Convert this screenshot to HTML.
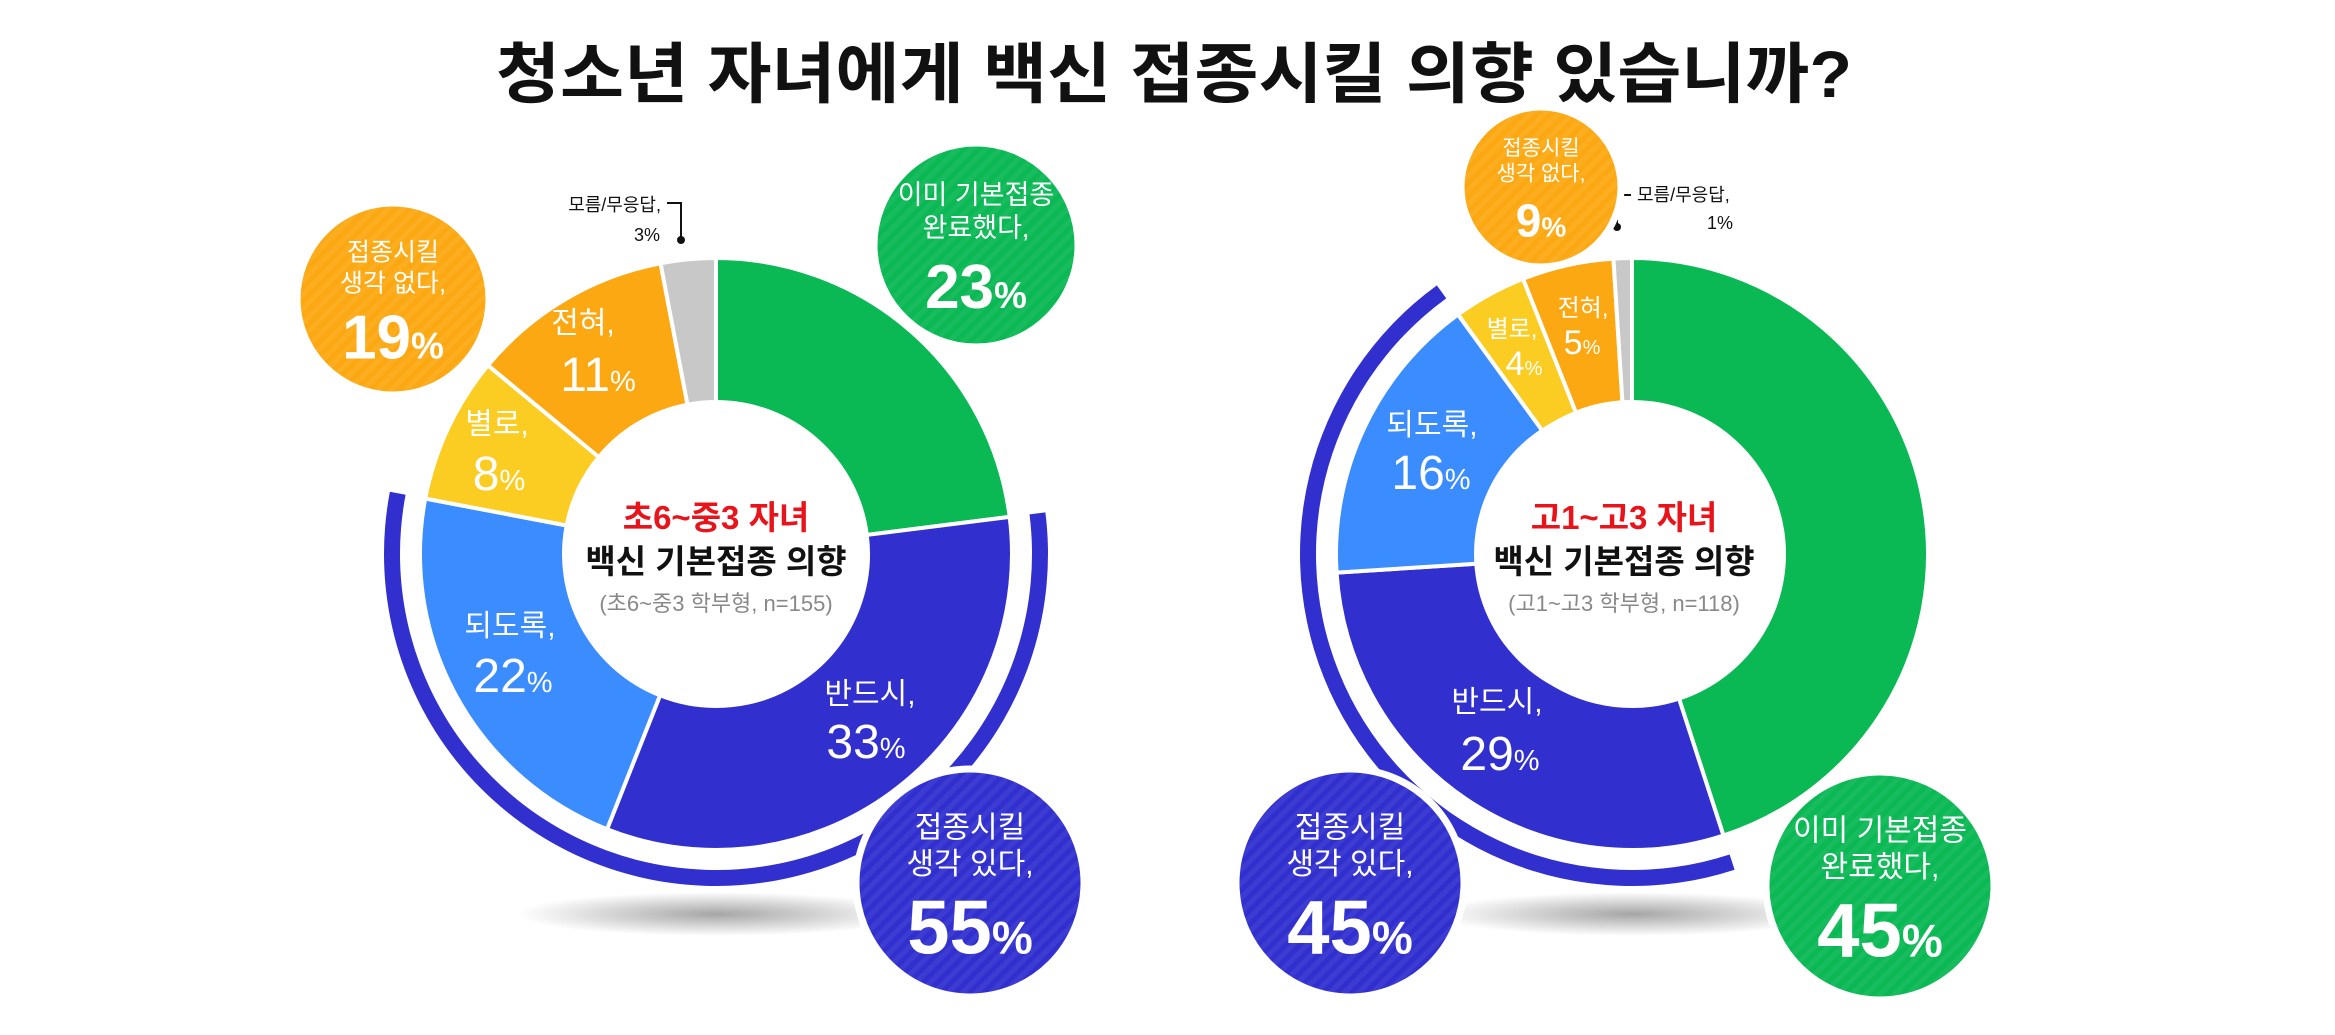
<!DOCTYPE html>
<html><head><meta charset="utf-8">
<style>
html,body{margin:0;padding:0;background:#fff;}
svg{display:block;font-family:"Liberation Sans","Noto Sans CJK KR",sans-serif;}
</style></head>
<body>
<svg id="chart" width="2335" height="1035" viewBox="0 0 2335 1035" xmlns="http://www.w3.org/2000/svg">
<defs>
<pattern id="stripe" width="10" height="10" patternUnits="userSpaceOnUse" patternTransform="rotate(45)">
<rect width="5" height="10" fill="#ffffff" opacity="0.06"/>
</pattern>
<radialGradient id="shadow" cx="50%" cy="50%" r="50%">
<stop offset="0" stop-color="#000" stop-opacity="0.35"/>
<stop offset="1" stop-color="#000" stop-opacity="0"/>
</radialGradient>
</defs>
<text x="1174" y="97" text-anchor="middle" font-size="66" font-weight="bold" fill="#111" textLength="1356" lengthAdjust="spacingAndGlyphs">청소년 자녀에게 백신 접종시킬 의향 있습니까?</text>
<g id="layer"></g>
</svg>
<script>
// Left donut (초6~중3)
const leftCategories = ["이미 기본접종 완료", "반드시", "되도록", "별로", "전혀", "모름/무응답"];
const leftValues = [23, 33, 22, 8, 11, 3];
// Right donut (고1~고3)
const rightCategories = ["이미 기본접종 완료", "반드시", "되도록", "별로", "전혀", "모름/무응답"];
const rightValues = [45, 29, 16, 4, 5, 1];
const sliceColors = ["#0ab854", "#3130cf", "#3a8cff", "#fbcd22", "#fca812", "#c8c8c8"];
const leftWillTotal = [55];
const rightWillTotal = [45];

const NS = "http://www.w3.org/2000/svg";
const layer = document.getElementById("layer");
function el(tag, attrs, parent){
  const e = document.createElementNS(NS, tag);
  for (const k in attrs) e.setAttribute(k, attrs[k]);
  (parent || layer).appendChild(e);
  return e;
}
function pt(cx, cy, r, deg){
  const a = (deg - 90) * Math.PI / 180;
  return [cx + r * Math.cos(a), cy + r * Math.sin(a)];
}
function angleOf(pct){ return pct / 100 * 360; }
function ringPath(cx, cy, r0, r1, a0, a1){
  const large = (a1 - a0) > 180 ? 1 : 0;
  const p0 = pt(cx, cy, r1, a0), p1 = pt(cx, cy, r1, a1), p2 = pt(cx, cy, r0, a1), p3 = pt(cx, cy, r0, a0);
  return `M${p0[0]},${p0[1]} A${r1},${r1} 0 ${large} 1 ${p1[0]},${p1[1]} L${p2[0]},${p2[1]} A${r0},${r0} 0 ${large} 0 ${p3[0]},${p3[1]} Z`;
}
function drawDonut(prefix, cx, cy, values, cats, willTotal){
  const sh = el("ellipse", {cx: cx, cy: cy + 360, rx: 200, ry: 22, fill: "url(#shadow)"});
  
  
  let cum = 0;
  values.forEach((v, i) => {
    const a0 = angleOf(cum), a1 = angleOf(cum + v);
    const p = el("path", {d: ringPath(cx, cy, 152, 296, a0, a1), fill: sliceColors[i], stroke: "#fff", "stroke-width": 4});
    
    
    cum += v;
  });
  const b0 = angleOf(values[0]), b1 = angleOf(values[0] + willTotal[0]);
  const band = el("path", {d: ringPath(cx, cy, 316, 332, b0, b1), fill: "#3130cf"});
  
  
}
function txt(x, y, s, size, color, weight, anchor, name){
  const t = el("text", {x: x, y: y, "font-size": size, fill: color, "font-weight": weight || "normal", "text-anchor": anchor || "middle"});
  t.textContent = s;
  
  
  return t;
}
function pctText(x, y, v, size, name, weight){
  const t = el("text", {x: x, y: y, "font-size": size, fill: "#fff", "font-weight": weight || "normal", "text-anchor": "middle"});
  
  
  const a = el("tspan", {}, t); a.textContent = v;
  const b = el("tspan", {"font-size": Math.round(size * 0.6)}, t); b.textContent = "%";
  return t;
}
function bubble(cx, cy, r, color, lines, val, valSize, name){
  const c = el("circle", {cx: cx, cy: cy, r: r, fill: color, stroke: "#fff", "stroke-width": 7});
  
  
  el("circle", {cx: cx, cy: cy, r: r, fill: "url(#stripe)"});
  const lh = r * 0.32;
  lines.forEach((s, i) => txt(cx, cy - r * 0.4 + i * lh, s, Math.round(r * 0.26), "#fff", "normal", "middle", name + '-label'));
  pctText(cx, cy + r * 0.62, val, valSize, name + '-value', "bold");
}

// ---- Left donut
const LX = 716, LY = 554;
drawDonut("left", LX, LY, leftValues, leftCategories, leftWillTotal);
el("circle", {cx: LX, cy: LY, r: 150, fill: "#fff"});
txt(LX, 529, "초6~중3 자녀", 33, "#e8141b", "bold", "middle", "left-center-title");
txt(LX, 573, "백신 기본접종 의향", 33, "#111", "bold", "middle", "left-center-subtitle");
txt(LX, 611, "(초6~중3 학부형, n=155)", 22, "#888", "normal", "middle", "left-center-sample");
txt(870, 704, "반드시,", 30, "#fff", "normal", "middle", "left-label-must");
pctText(866, 758, leftValues[1], 48, "left-value-must");
txt(510, 636, "되도록,", 30, "#fff", "normal", "middle", "left-label-rather");
pctText(513, 692, leftValues[2], 48, "left-value-rather");
txt(497, 434, "별로,", 30, "#fff", "normal", "middle", "left-label-notmuch");
pctText(499, 490, leftValues[3], 48, "left-value-notmuch");
txt(583, 333, "전혀,", 30, "#fff", "normal", "middle", "left-label-never");
pctText(598, 391, leftValues[4], 48, "left-value-never");
txt(661, 211, "모름/무응답,", 18, "#111", "normal", "end", "left-label-dk");
txt(660, 241, leftValues[5] + "%", 18, "#111", "normal", "end", "left-value-dk");
el("path", {d: "M667,203 L681,203 L681,238", stroke: "#111", "stroke-width": 2, fill: "none"});
el("circle", {cx: 681, cy: 240, r: 4, fill: "#111"});
bubble(976, 245, 102, "#0ab854", ["이미 기본접종", "완료했다,"], leftValues[0], 62, "left-bubble-done");
bubble(393, 299, 96, "#fca812", ["접종시킬", "생각 없다,"], leftValues[3] + leftValues[4], 62, "left-bubble-no");
bubble(970, 883, 114, "#3130cf", ["접종시킬", "생각 있다,"], leftWillTotal[0], 76, "left-bubble-yes");

// ---- Right donut
const RX = 1632, RY = 554;
drawDonut("right", RX, RY, rightValues, rightCategories, rightWillTotal);
el("circle", {cx: RX - 8, cy: RY, r: 150, fill: "#fff"});
txt(RX - 8, 529, "고1~고3 자녀", 33, "#e8141b", "bold", "middle", "right-center-title");
txt(RX - 8, 573, "백신 기본접종 의향", 33, "#111", "bold", "middle", "right-center-subtitle");
txt(RX - 8, 611, "(고1~고3 학부형, n=118)", 22, "#888", "normal", "middle", "right-center-sample");
txt(1497, 712, "반드시,", 30, "#fff", "normal", "middle", "right-label-must");
pctText(1500, 770, rightValues[1], 48, "right-value-must");
txt(1432, 435, "되도록,", 30, "#fff", "normal", "middle", "right-label-rather");
pctText(1431, 489, rightValues[2], 48, "right-value-rather");
txt(1512, 337, "별로,", 24, "#fff", "normal", "middle", "right-label-notmuch");
pctText(1524, 375, rightValues[3], 34, "right-value-notmuch");
txt(1583, 316, "전혀,", 24, "#fff", "normal", "middle", "right-label-never");
pctText(1582, 354, rightValues[4], 34, "right-value-never");
txt(1637, 201, "모름/무응답,", 18, "#111", "normal", "start", "right-label-dk");
txt(1733, 229, rightValues[5] + "%", 18, "#111", "normal", "end", "right-value-dk");
el("path", {d: "M1631,195 L1617,195 L1617,225", stroke: "#111", "stroke-width": 2, fill: "none"});
el("circle", {cx: 1617, cy: 227, r: 4, fill: "#111"});
bubble(1541, 187, 80, "#fca812", ["접종시킬", "생각 없다,"], rightValues[3] + rightValues[4], 46, "right-bubble-no");
bubble(1350, 883, 114, "#3130cf", ["접종시킬", "생각 있다,"], rightWillTotal[0], 76, "right-bubble-yes");
bubble(1880, 886, 114, "#0ab854", ["이미 기본접종", "완료했다,"], rightValues[0], 76, "right-bubble-done");
</script>
</body></html>
